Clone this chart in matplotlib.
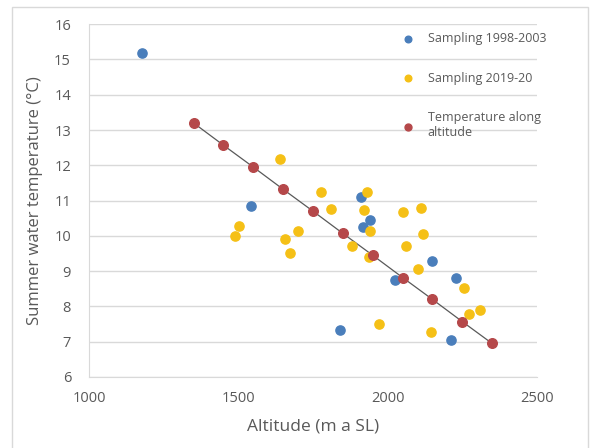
import matplotlib
matplotlib.use('Agg')
import matplotlib.pyplot as plt
from matplotlib.patches import Rectangle

# sampling 1998-2003
alt_old = [1178, 1541, 1912, 1941, 1918, 2150, 2024, 2230, 1840, 2212]
temp_old = [15.19, 10.84, 11.09, 10.44, 10.25, 9.30, 8.74, 8.80, 7.34, 7.04]

# sampling 2019-20
alt_new = [1640, 1777, 1930, 1809, 1920, 2051, 2111, 1502, 1489, 1701, 1941, 2119,
           1655, 1879, 2060, 1672, 1937, 2103, 2256, 2309, 2272, 1970, 2145]
temp_new = [12.19, 11.24, 11.24, 10.76, 10.73, 10.68, 10.78, 10.29, 9.99, 10.15, 10.14, 10.04,
            9.90, 9.72, 9.72, 9.51, 9.39, 9.05, 8.51, 7.90, 7.79, 7.49, 7.28]

# temperature along altitude
alt_grad = [1350, 1450, 1550, 1650, 1750, 1850, 1950, 2050, 2150, 2250, 2350]
temp_grad = [13.2, 12.57, 11.95, 11.32, 10.7, 10.07, 9.45, 8.82, 8.2, 7.57, 6.95]

plt.rcParams['font.family'] = ['Open Sans', 'DejaVu Sans']
txtcol = '#595959'
gridcol = '#d9d9d9'

fig = plt.figure(figsize=(5.9, 4.48), dpi=100)
ax = fig.add_axes([0.151, 0.1585, 0.759, 0.7875])

# outer chart border
fig.patches.append(Rectangle((12 / 590, -0.05), 576 / 590, 1 - 7 / 448 + 0.05,
                             transform=fig.transFigure, fill=False,
                             edgecolor=gridcol, linewidth=1))

ax.plot(alt_grad, temp_grad, color='#595959', linewidth=0.9, zorder=2)
ax.scatter(alt_old, temp_old, s=44, color='#4a7ebb', label='Sampling 1998-2003', zorder=3)
ax.scatter(alt_new, temp_new, s=44, color='#f5c016', label='Sampling 2019-20', zorder=3)
ax.scatter(alt_grad, temp_grad, s=48, color='#b5484a', label='Temperature along\naltitude', zorder=4)

ax.set_xlim(1000, 2500)
ax.set_ylim(6, 16)
ax.set_xticks([1000, 1500, 2000, 2500])
ax.set_yticks(range(6, 17))
ax.grid(axis='y', color=gridcol, linewidth=1)
ax.set_axisbelow(True)
for s in ['top', 'right']:
    ax.spines[s].set_visible(False)
for s in ['left', 'bottom']:
    ax.spines[s].set_color(gridcol)
ax.tick_params(length=0, colors=txtcol, labelsize=10.5)
ax.tick_params(axis='y', pad=13)
ax.tick_params(axis='x', pad=10)

ax.set_xlabel('Altitude (m a SL)', color=txtcol, fontsize=12.5, labelpad=9)
ax.set_ylabel('Summer water temperature (°C)', color=txtcol, fontsize=12, labelpad=8)

leg = ax.legend(loc='upper left', bbox_to_anchor=(0.665, 1.0), frameon=False,
                fontsize=9, handletextpad=0.6, labelspacing=2.1, markerscale=0.72,
                borderaxespad=0.25)
for t in leg.get_texts():
    t.set_color(txtcol)

fig.savefig('out.png', dpi=100)
